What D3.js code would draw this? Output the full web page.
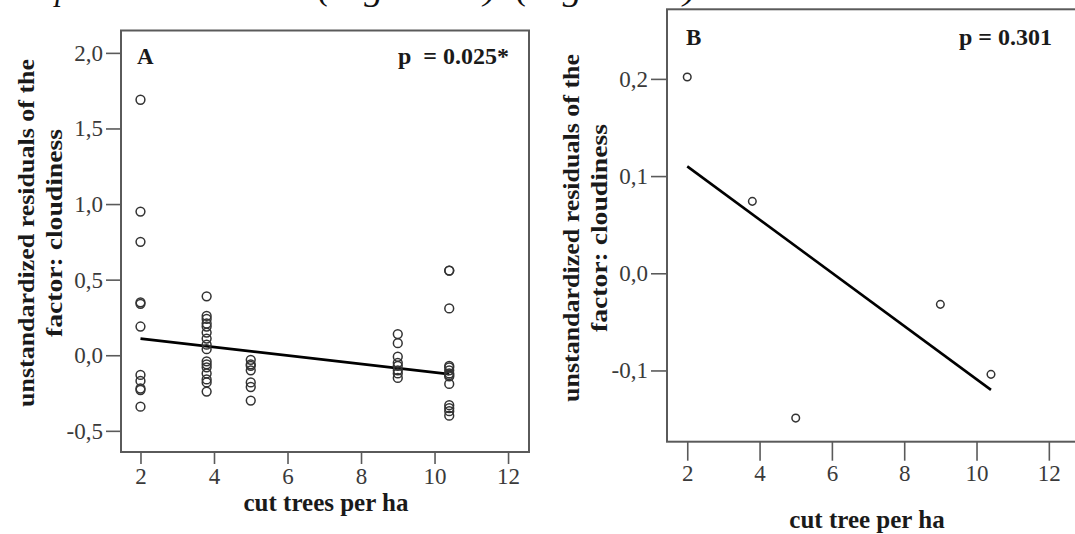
<!DOCTYPE html>
<html>
<head>
  <meta charset="UTF-8">
  <title>Residuals vs cut trees</title>
  <script src="https://d3js.org/d3.v7.min.js"></script>
  <style>
    body {
      margin: 0;
      background: #fff;
      font-family: "Liberation Serif", "Times New Roman", serif;
    }
    .frame {
      fill: none;
      stroke: #5a5a5a;
      stroke-width: 2;
    }
    .axis path {
      display: none;
    }
    .axis line {
      stroke: #5a5a5a;
      stroke-width: 1.6;
    }
    .axis text {
      font-family: "Liberation Serif", serif;
      font-size: 23px;
      fill: #3a3a3a;
    }
    .dot {
      fill: none;
      stroke: #333;
      stroke-width: 1.5;
    }
    .fit {
      stroke: #000;
      stroke-width: 2.6;
      fill: none;
    }
    .bold {
      font-weight: bold;
      fill: #1a1a1a;
      white-space: pre;
    }
  </style>
</head>
<body>
  <svg id="chart" width="1075" height="534"></svg>
  <script>
    // panel A: cut trees per ha vs residuals
    const cutTreesA = [
      2, 2, 2, 2, 2, 2, 2, 2, 2, 2, 2,
      3.8, 3.8, 3.8, 3.8, 3.8, 3.8, 3.8, 3.8, 3.8, 3.8, 3.8, 3.8, 3.8, 3.8, 3.8, 3.8,
      5, 5, 5, 5, 5, 5, 5,
      9, 9, 9, 9, 9, 9, 9, 9,
      10.4, 10.4, 10.4, 10.4, 10.4, 10.4, 10.4, 10.4, 10.4, 10.4, 10.4, 10.4, 10.4, 10.4
    ];
    const residualsA = [
      1.69, 0.95, 0.75, 0.35, 0.34, 0.19, -0.13, -0.17, -0.22, -0.23, -0.34,
      0.39, 0.26, 0.24, 0.21, 0.19, 0.15, 0.11, 0.07, 0.04, -0.04, -0.06, -0.08, -0.12, -0.16, -0.18, -0.24,
      -0.03, -0.06, -0.07, -0.10, -0.18, -0.21, -0.30,
      0.14, 0.08, -0.01, -0.05, -0.07, -0.10, -0.12, -0.15,
      0.56, 0.56, 0.31, -0.07, -0.08, -0.10, -0.12, -0.13, -0.14, -0.19, -0.33, -0.35, -0.37, -0.40
    ];
    const fitXA = [2, 10.4];
    const fitYA = [0.11, -0.125];
    const yTicksA = [-0.5, 0, 0.5, 1, 1.5, 2];

    // panel B
    const cutTreesB = [2, 3.8, 5, 9, 10.4];
    const residualsB = [0.202, 0.074, -0.149, -0.032, -0.104];
    const fitXB = [2, 10.4];
    const fitYB = [0.11, -0.12];
    const yTicksB = [-0.1, 0, 0.1, 0.2];

    const xTicks = [2, 4, 6, 8, 10, 12];

    const svg = d3.select("#chart");
    const fmt = v => d3.format(".1f")(v).replace(".", ",").replace("\u2212", "-");

    // line of body text above the figure, cut off by the top edge
    const topLine = svg.append("g")
      .style("font-family", "Liberation Serif, serif")
      .style("font-style", "italic")
      .style("font-size", "32px")
      .attr("fill", "#111");
    topLine.append("text").attr("x", 55).attr("y", 0).text("p");
    topLine.append("text").attr("x", 318).attr("y", 0)
      .attr("textLength", 178).attr("lengthAdjust", "spacingAndGlyphs").text("(Figure 3A)");
    topLine.append("text").attr("x", 516).attr("y", 0)
      .attr("textLength", 180).attr("lengthAdjust", "spacingAndGlyphs").text("(Figure 3B)");

    const drawPanel = (opt) => {
      const g = svg.append("g");
      const x = d3.scaleLinear().domain(opt.xDomain).range([opt.left, opt.right]);
      const y = d3.scaleLinear().domain(opt.yDomain).range([opt.bottom, opt.top]);

      g.append("rect")
        .attr("class", "frame")
        .attr("x", opt.left)
        .attr("y", opt.top)
        .attr("width", opt.right - opt.left)
        .attr("height", opt.bottom - opt.top);

      g.append("g")
        .attr("class", "axis")
        .attr("transform", `translate(${opt.left},0)`)
        .call(d3.axisLeft(y).tickValues(opt.yTicks).tickFormat(fmt)
          .tickSize(opt.yTickSize).tickPadding(3));

      g.append("g")
        .attr("class", "axis")
        .attr("transform", `translate(0,${opt.bottom})`)
        .call(d3.axisBottom(x).tickValues(xTicks).tickFormat(d3.format("d"))
          .tickSize(opt.xTickSize).tickPadding(opt.xTickPad));

      g.append("line")
        .attr("class", "fit")
        .attr("x1", x(opt.fitX[0]))
        .attr("y1", y(opt.fitY[0]))
        .attr("x2", x(opt.fitX[1]))
        .attr("y2", y(opt.fitY[1]));

      g.selectAll(".dot")
        .data(opt.xs.map((d, i) => [d, opt.ys[i]]))
        .enter()
        .append("circle")
        .attr("class", "dot")
        .attr("cx", d => x(d[0]))
        .attr("cy", d => y(d[1]))
        .attr("r", opt.r);

      g.append("text")
        .attr("class", "bold")
        .attr("x", opt.letterPos[0])
        .attr("y", opt.letterPos[1])
        .style("font-size", "23px")
        .text(opt.letter);

      g.append("text")
        .attr("class", "bold")
        .attr("x", opt.pPos[0])
        .attr("y", opt.pPos[1])
        .attr("text-anchor", "end")
        .style("font-size", "24px")
        .text(opt.pText);

      g.append("text")
        .attr("class", "bold")
        .attr("x", opt.xLabelPos[0])
        .attr("y", opt.xLabelPos[1])
        .attr("text-anchor", "middle")
        .style("font-size", "25px")
        .text(opt.xLabel);

      const yl = g.append("g")
        .attr("transform", `translate(${opt.yLabelPos[0]},${opt.yLabelPos[1]}) rotate(-90)`);
      yl.append("text")
        .attr("class", "bold")
        .attr("text-anchor", "middle")
        .attr("y", 0)
        .attr("textLength", 348)
        .attr("lengthAdjust", "spacingAndGlyphs")
        .style("font-size", "24px")
        .text("unstandardized residuals of the");
      yl.append("text")
        .attr("class", "bold")
        .attr("text-anchor", "middle")
        .attr("y", 28)
        .attr("textLength", 208)
        .attr("lengthAdjust", "spacingAndGlyphs")
        .style("font-size", "24px")
        .text("factor: cloudiness");
    };

    drawPanel({
      left: 121, right: 529, top: 30.5, bottom: 452,
      xDomain: [1.47, 12.57], yDomain: [-0.64, 2.148],
      yTicks: yTicksA, yTickSize: 15, xTickSize: 12, xTickPad: 4,
      xs: cutTreesA, ys: residualsA, r: 4.4,
      fitX: fitXA, fitY: fitYA,
      letter: "A", letterPos: [137, 64],
      pText: "p  = 0.025*", pPos: [509, 64],
      xLabelPos: [326, 511], xLabel: "cut trees per ha",
      yLabelPos: [34, 233]
    });

    drawPanel({
      left: 667, right: 1085, top: 9.3, bottom: 441.7,
      xDomain: [1.44, 13.0], yDomain: [-0.1733, 0.2716],
      yTicks: yTicksB, yTickSize: 16, xTickSize: 19, xTickPad: 4,
      xs: cutTreesB, ys: residualsB, r: 3.8,
      fitX: fitXB, fitY: fitYB,
      letter: "B", letterPos: [686, 45],
      pText: "p = 0.301", pPos: [1052, 45],
      xLabelPos: [867, 528], xLabel: "cut tree per ha",
      yLabelPos: [579, 228]
    });
  </script>
</body>
</html>
